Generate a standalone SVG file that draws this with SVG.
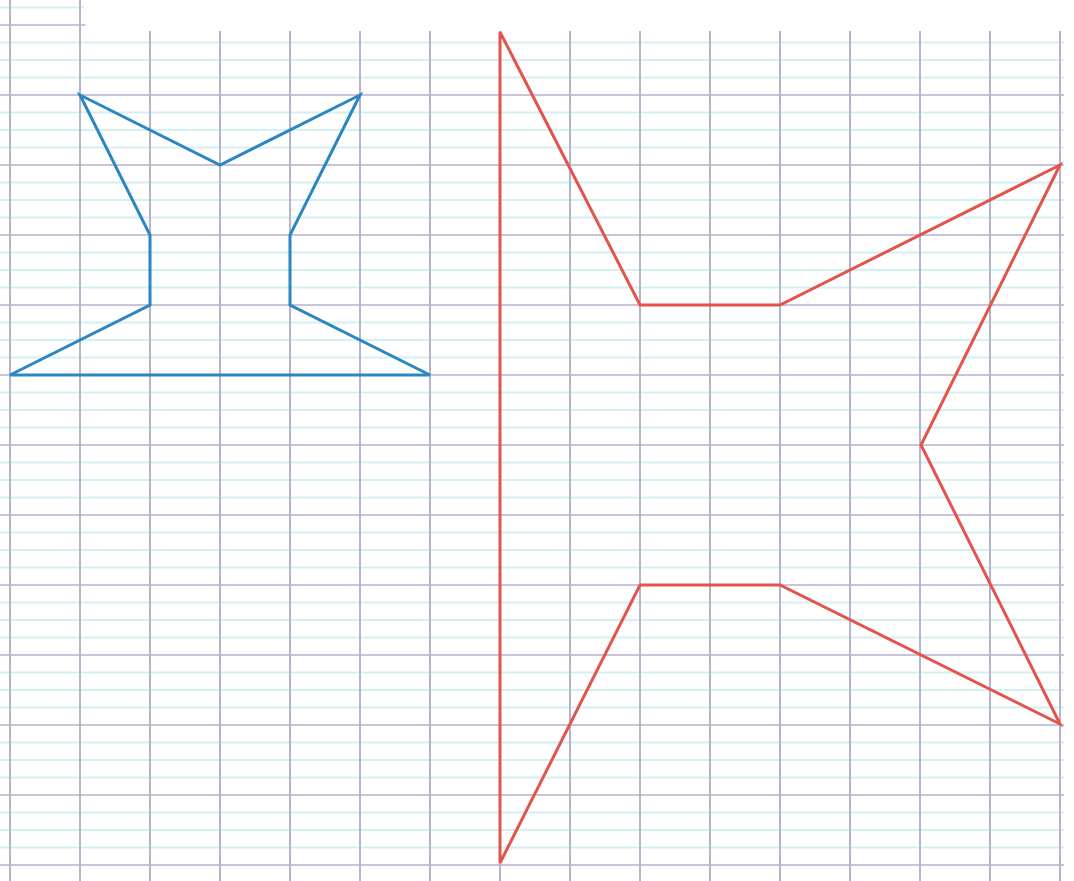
<svg xmlns="http://www.w3.org/2000/svg" width="1074" height="881" viewBox="0 0 1074 881">
<defs>
<style>
.minor{stroke:#d4f0f3;stroke-width:2}
.major{stroke:#c9c3dc;stroke-width:2}
.vert{stroke:#b6b3cd;stroke-width:2}
.shape{fill:none;stroke-width:3;stroke-linejoin:miter}
</style>
</defs>
<rect width="1074" height="881" fill="#ffffff"/>
<g id="grid">
<g class="minor">
<line x1="0" y1="7.5" x2="1064" y2="7.5"/>
<line x1="0" y1="42.5" x2="1064" y2="42.5"/><line x1="0" y1="60" x2="1064" y2="60"/><line x1="0" y1="77.5" x2="1064" y2="77.5"/>
<line x1="0" y1="112.5" x2="1064" y2="112.5"/><line x1="0" y1="130" x2="1064" y2="130"/><line x1="0" y1="147.5" x2="1064" y2="147.5"/>
<line x1="0" y1="182.5" x2="1064" y2="182.5"/><line x1="0" y1="200" x2="1064" y2="200"/><line x1="0" y1="217.5" x2="1064" y2="217.5"/>
<line x1="0" y1="252.5" x2="1064" y2="252.5"/><line x1="0" y1="270" x2="1064" y2="270"/><line x1="0" y1="287.5" x2="1064" y2="287.5"/>
<line x1="0" y1="322.5" x2="1064" y2="322.5"/><line x1="0" y1="340" x2="1064" y2="340"/><line x1="0" y1="357.5" x2="1064" y2="357.5"/>
<line x1="0" y1="392.5" x2="1064" y2="392.5"/><line x1="0" y1="410" x2="1064" y2="410"/><line x1="0" y1="427.5" x2="1064" y2="427.5"/>
<line x1="0" y1="462.5" x2="1064" y2="462.5"/><line x1="0" y1="480" x2="1064" y2="480"/><line x1="0" y1="497.5" x2="1064" y2="497.5"/>
<line x1="0" y1="532.5" x2="1064" y2="532.5"/><line x1="0" y1="550" x2="1064" y2="550"/><line x1="0" y1="567.5" x2="1064" y2="567.5"/>
<line x1="0" y1="602.5" x2="1064" y2="602.5"/><line x1="0" y1="620" x2="1064" y2="620"/><line x1="0" y1="637.5" x2="1064" y2="637.5"/>
<line x1="0" y1="672.5" x2="1064" y2="672.5"/><line x1="0" y1="690" x2="1064" y2="690"/><line x1="0" y1="707.5" x2="1064" y2="707.5"/>
<line x1="0" y1="742.5" x2="1064" y2="742.5"/><line x1="0" y1="760" x2="1064" y2="760"/><line x1="0" y1="777.5" x2="1064" y2="777.5"/>
<line x1="0" y1="812.5" x2="1064" y2="812.5"/><line x1="0" y1="830" x2="1064" y2="830"/><line x1="0" y1="847.5" x2="1064" y2="847.5"/>
</g>
<g class="major">
<line x1="0" y1="25" x2="1064" y2="25"/><line x1="0" y1="95" x2="1064" y2="95"/><line x1="0" y1="165" x2="1064" y2="165"/>
<line x1="0" y1="235" x2="1064" y2="235"/><line x1="0" y1="305" x2="1064" y2="305"/><line x1="0" y1="375" x2="1064" y2="375"/>
<line x1="0" y1="445" x2="1064" y2="445"/><line x1="0" y1="515" x2="1064" y2="515"/><line x1="0" y1="585" x2="1064" y2="585"/>
<line x1="0" y1="655" x2="1064" y2="655"/><line x1="0" y1="725" x2="1064" y2="725"/><line x1="0" y1="795" x2="1064" y2="795"/>
<line x1="0" y1="865" x2="1064" y2="865"/>
</g>
<g class="vert">
<line x1="10" y1="0" x2="10" y2="881"/><line x1="80" y1="0" x2="80" y2="881"/><line x1="150" y1="0" x2="150" y2="881"/>
<line x1="220" y1="0" x2="220" y2="881"/><line x1="290" y1="0" x2="290" y2="881"/><line x1="360" y1="0" x2="360" y2="881"/>
<line x1="430" y1="0" x2="430" y2="881"/><line x1="500" y1="0" x2="500" y2="881"/><line x1="570" y1="0" x2="570" y2="881"/>
<line x1="640" y1="0" x2="640" y2="881"/><line x1="710" y1="0" x2="710" y2="881"/><line x1="780" y1="0" x2="780" y2="881"/>
<line x1="850" y1="0" x2="850" y2="881"/><line x1="920" y1="0" x2="920" y2="881"/><line x1="990" y1="0" x2="990" y2="881"/>
<line x1="1060" y1="0" x2="1060" y2="881"/>
</g>
<rect x="84" y="-20" width="1010" height="51" rx="12" fill="#ffffff"/>
</g>
<g id="blue-figure">
<polygon class="shape" stroke="#2b86c2" points="80,95 220,165 360,95 290,235 290,305 430,375 10,375 150,305 150,235"/>
</g>
<g id="red-figure">
<polygon class="shape" stroke="#e2544c" points="500,32 640,305 780,305 1060,165 921,445 1060,724 780,585 640,585 500,863"/>
</g>
</svg>
